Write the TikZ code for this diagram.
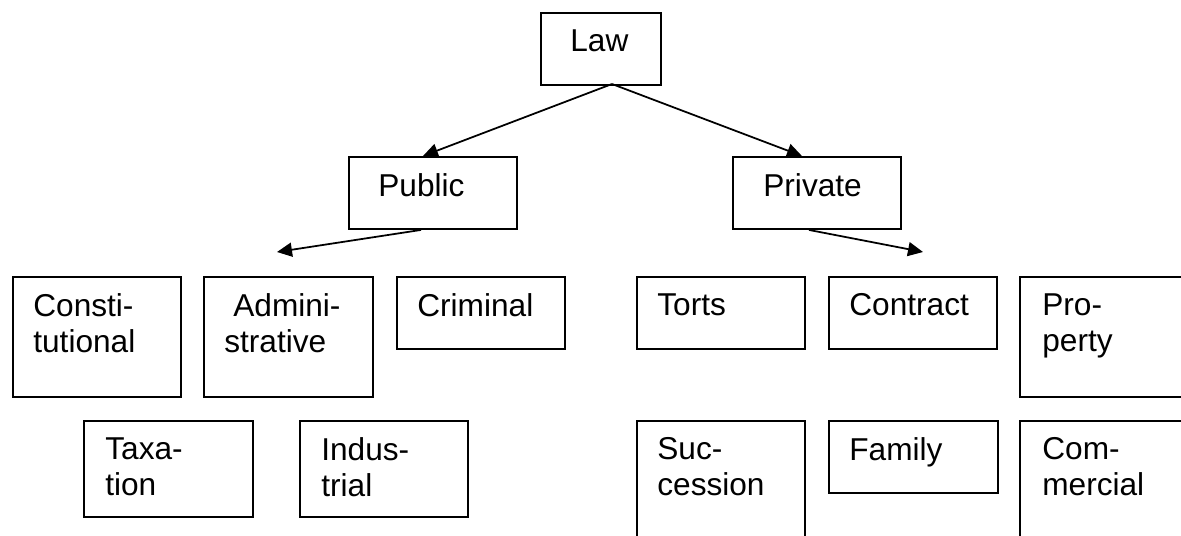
\documentclass[tikz,border=0pt]{standalone}
\usepackage{fontspec}
\setmainfont{Liberation Sans}
\usetikzlibrary{arrows.meta,calc}
\tikzset{
  box/.style={draw=black,line width=1.1pt,anchor=north west,inner sep=0pt},
  lbl/.style={anchor=north west,align=left,inner sep=0pt,
    font=\fontsize{18}{20.5}\selectfont},
  arr/.style={-{Triangle[length=0.3cm,width=0.28cm]},line width=1pt},
}
\begin{document}
\begin{tikzpicture}[x=0.02cm,y=-0.02cm]
  \useasboundingbox (0,0) rectangle (1181,535);
  \clip (0,0) rectangle (1181,535);
  % boxes: name/left/top/width/height/indent/text
  \foreach \nm/\x/\y/\w/\h/\ix/\txt in {
    law/540/12/120/72/30/{Law},
    pub/348/156/168/72/30/{Public},
    priv/732/156/168/72/31/{Private},
    cons/12/276/168/120/21/{Consti-\\tutional},
    adm/203/276/169/120/21/{\hspace*{0.18cm}Admini-\\strative},
    crim/396/276/168/72/21/{Criminal},
    tax/83/420/169/96/22/{Taxa-\\tion},
    ind/299/420/168/96/22/{Indus-\\trial},
    tort/636/276/168/72/21/{Torts},
    cont/828/276/168/72/21/{Contract},
    prop/1019/276/250/120/23/{Pro-\\perty},
    succ/636/420/168/150/21/{Suc-\\cession},
    fam/828/420/169/72/21/{Family},
    com/1019/420/250/150/23/{Com-\\mercial}} {
    \node[box,minimum width={\w*0.02cm},minimum height={\h*0.02cm}]
      (\nm) at (\x,\y) {};
    \node[lbl] (\nm t) at (\x+\ix,\y+17) {\txt};
  }
  % connectors
  \coordinate (lawfoot) at (612,84);
  \coordinate (pubend) at (277,252);
  \coordinate (privend) at (923,252);
  \draw[arr] (lawfoot) -- ([xshift=-0.2cm]pub.north);
  \draw[arr] (lawfoot) -- ([xshift=-0.3cm]priv.north);
  \draw[arr] ([xshift=-0.24cm]pub.south) -- (pubend);
  \draw[arr] ([xshift=-0.16cm]priv.south) -- (privend);
\end{tikzpicture}
\end{document}
